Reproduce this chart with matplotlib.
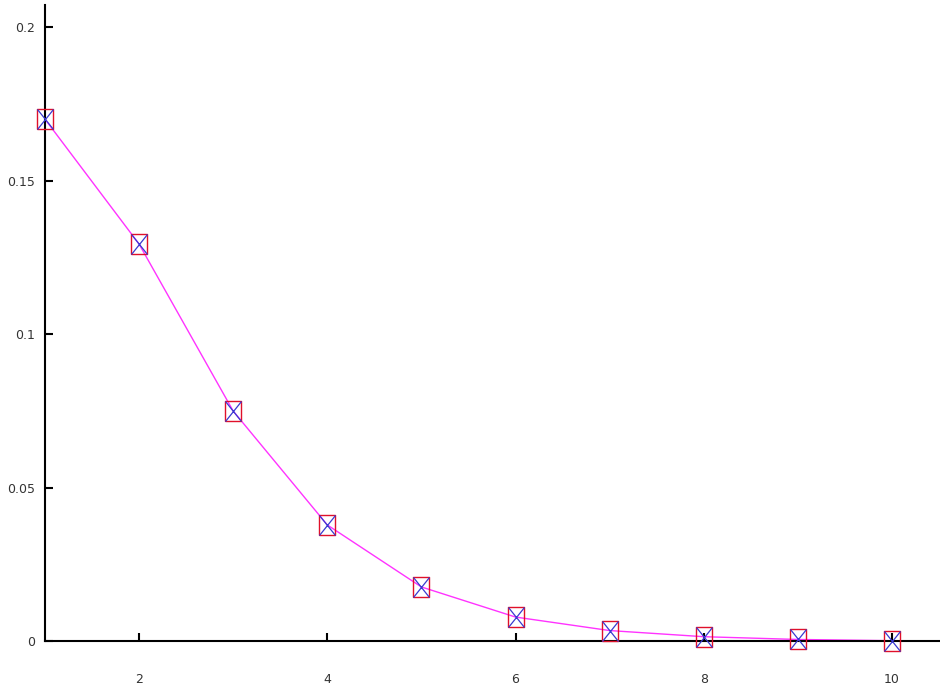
import matplotlib
matplotlib.use('Agg')
import matplotlib.pyplot as plt
from matplotlib.path import Path

# values
x_vals = [1, 2, 3, 4, 5, 6, 7, 8, 9, 10]
y_vals = [0.170, 0.1293, 0.0749, 0.0378, 0.0176, 0.0078, 0.0034, 0.0014, 0.0005, 0.0001]
x_ticks = [2, 4, 6, 8, 10]
y_ticks = [0, 0.05, 0.1, 0.15, 0.2]
y_labels = ['0', '0.05', '0.1', '0.15', '0.2']

# slightly tall box and its diagonals
box = Path([(-0.8, -1), (0.8, -1), (0.8, 1), (-0.8, 1), (-0.8, -1)])
cross = Path([(-0.8, -1), (0.8, 1), (-0.8, 1), (0.8, -1)],
             [Path.MOVETO, Path.LINETO, Path.MOVETO, Path.LINETO])

fig = plt.figure(figsize=(9.4, 6.88), dpi=100)
ax = fig.add_axes([45/940, 47/688, 1 - 45/940, (641 - 5)/688])

ax.plot(x_vals, y_vals, color='#ff33ff', linewidth=1.0, zorder=2, clip_on=False)
ax.plot(x_vals, y_vals, linestyle='none', marker=box, markersize=14.5,
        markerfacecolor='none', markeredgecolor='#e0102a',
        markeredgewidth=1.0, zorder=3, clip_on=False)
ax.plot(x_vals, y_vals, linestyle='none', marker=cross, markersize=14.5,
        markerfacecolor='none', markeredgecolor='#3a3ad0',
        markeredgewidth=0.9, zorder=4, clip_on=False)

ax.set_xlim(1, 10.51)
ax.set_ylim(0, 0.2072)
ax.set_xticks(x_ticks)
ax.set_xticklabels([str(t) for t in x_ticks])
ax.set_yticks(y_ticks)
ax.set_yticklabels(y_labels)

for side in ['top', 'right']:
    ax.spines[side].set_visible(False)
for side in ['left', 'bottom']:
    ax.spines[side].set_linewidth(1.5)
    ax.spines[side].set_color('black')

ax.tick_params(axis='both', direction='in', length=6, width=1.5,
               labelsize=9, labelcolor='#333333')
ax.tick_params(axis='x', pad=23)
ax.tick_params(axis='y', pad=7)

fig.savefig('out.png', dpi=100)
